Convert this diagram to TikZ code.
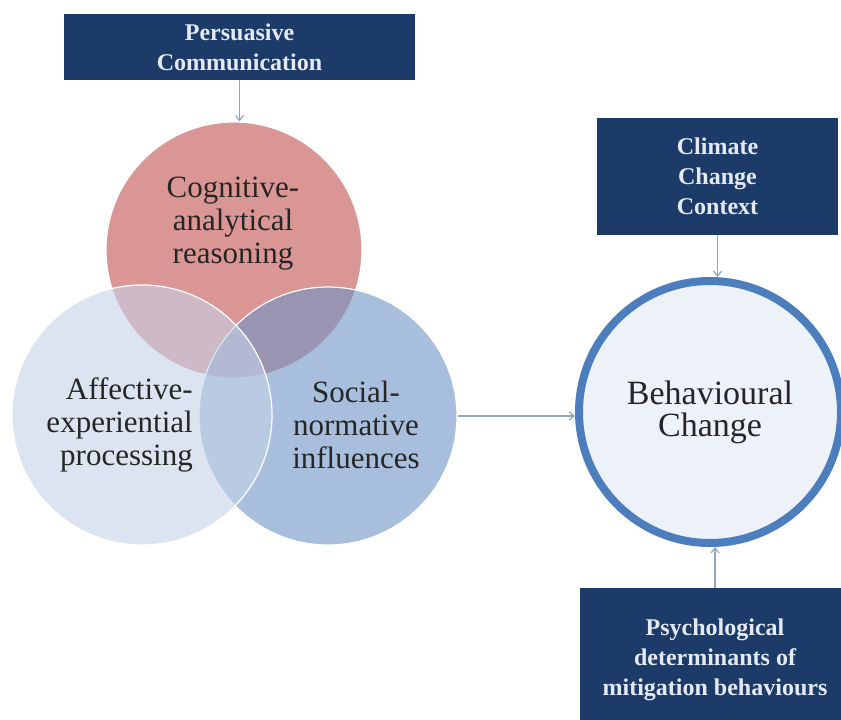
\documentclass[tikz,border=0pt]{standalone}
\usepackage{fontspec}
\setmainfont{Liberation Serif}
\usetikzlibrary{arrows.meta}
\definecolor{navy}{HTML}{1C3B68}
\definecolor{boxtext}{HTML}{E4EAF3}
\definecolor{cogred}{HTML}{DA9694}
\definecolor{affblue}{HTML}{C5D2E8}
\definecolor{socblue}{HTML}{6C93C6}
\definecolor{ringblue}{HTML}{4C7EBD}
\definecolor{ringfill}{HTML}{EDF1F8}
\definecolor{arrowgray}{HTML}{93A6C0}
\definecolor{vtext}{HTML}{262626}

\begin{document}
\begin{tikzpicture}[x=1pt,y=-1pt]
  \tikzstyle{every node}=[inner sep=0pt]
  \tikzstyle{darkbox}=[rectangle, fill=navy, text=boxtext, align=center,
    font=\bfseries\fontsize{24}{30}\selectfont]
  \tikzstyle{venn}=[circle, draw=white, line width=1.2pt]
  \tikzstyle{venntext}=[text=vtext, font=\fontsize{31}{33}\selectfont]
  \tikzstyle{link}=[draw=arrowgray, line width=1.2pt,
    -{Straight Barb[length=5pt,width=8pt]}]
  \useasboundingbox (0,0) rectangle (841,720);

  % boxes
  \node (Persuasion)[darkbox, minimum width=351pt, minimum height=66pt] at (239.5,47)
    {Persuasive\\Communication};
  \node (Context)[darkbox, minimum width=241pt, minimum height=117pt] at (717.5,176.5)
    {Climate\\Change\\Context};
  \node (Determinants)[darkbox, minimum width=270pt, minimum height=144pt] at (715,660)
    {Psychological\\determinants of\\mitigation behaviours};

  % venn
  \node (Cognitive)[venn, fill=cogred, minimum size=256pt] at (234,250) {};
  \node (Social)[venn, fill=socblue, fill opacity=0.6, minimum size=258pt] at (328,416) {};
  \node (Affective)[venn, fill=affblue, fill opacity=0.6, minimum size=260pt] at (142,415) {};
  \node[venntext, align=center] at (233,224) {Cognitive-\\analytical\\reasoning};
  \node[venntext, align=right, anchor=east] at (193,425) {Affective-\\experiential\\processing};
  \node[venntext, align=center] at (356,425) {Social-\\normative\\influences};

  \node (Behaviour)[circle, draw=ringblue, line width=8pt, fill=ringfill,
    minimum size=262pt, text=vtext, align=center,
    font=\fontsize{34}{32}\selectfont] at (710,412) {Behavioural\\Change};

  % arrows
  \draw[link] (Persuasion.south) -- (Persuasion.south |- Cognitive.north);
  \draw[link] (Social.east) -- (Social.east -| Behaviour.west);
  \draw[link] (Context.south) -- (Context.south |- Behaviour.north);
  \draw[link] (Determinants.north) -- (Determinants.north |- Behaviour.south);
\end{tikzpicture}
\end{document}
